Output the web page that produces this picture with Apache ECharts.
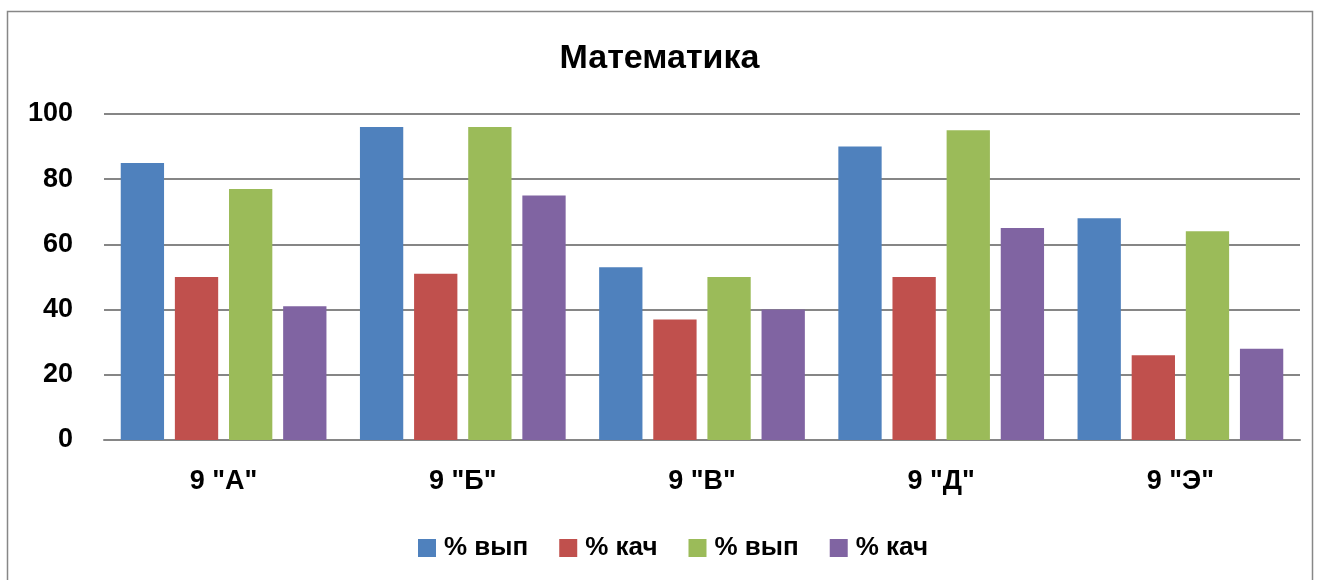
<!DOCTYPE html>
<html><head><meta charset="utf-8">
<script src="https://cdn.jsdelivr.net/npm/echarts@6/dist/echarts.min.js"></script>
<style>html,body{margin:0;padding:0;background:#fff}#c{width:1319px;height:580px}</style>
</head><body><div id="c"></div>
<script>
const title = 'Математика';
const categories = ['9 "А"', '9 "Б"', '9 "В"', '9 "Д"', '9 "Э"'];
const seriesNames = ['% вып', '% кач', '% вып', '% кач'];
const vyp1 = [85, 96, 53, 90, 68];
const kach1 = [50, 51, 37, 50, 26];
const vyp2 = [77, 96, 50, 95, 64];
const kach2 = [41, 75, 40, 65, 28];
const colors = ['#4F81BD', '#C0504D', '#9BBB59', '#8064A2'];
const allData = [vyp1, kach1, vyp2, kach2];

const FONT = '"Liberation Sans", Arial, sans-serif';
const chart = echarts.init(document.getElementById('c'), null, {renderer: 'canvas'});
chart.setOption({
  animation: false,
  backgroundColor: '#fff',
  graphic: [{
    type: 'rect', shape: {x: 7.5, y: 11.5, width: 1305, height: 600},
    style: {fill: 'none', stroke: '#878787', lineWidth: 1.5}, z: -1
  }],
  title: {
    text: title, left: 'center', top: 37,
    textStyle: {fontFamily: FONT, fontWeight: 'bold', fontSize: 34, color: '#000'}
  },
  grid: {left: 104, right: 19, top: 114, bottom: 140, containLabel: false},
  legend: {
    top: 535, left: 418, itemWidth: 18, itemHeight: 18, itemGap: 31, padding: 0,
    icon: 'rect',
    textStyle: {fontFamily: FONT, fontWeight: 'bold', fontSize: 26, color: '#000', padding: [0, 0, 0, 3]},
    data: seriesNames.map((n, i) => ({name: n + '\u200b'.repeat(i), itemStyle: {color: colors[i]}}))
  },
  xAxis: {
    type: 'category', data: categories,
    axisLine: {lineStyle: {color: '#868686', width: 2}},
    axisTick: {show: false},
    axisLabel: {margin: 28, fontFamily: FONT, fontWeight: 'bold', fontSize: 27, color: '#000'}
  },
  yAxis: {
    type: 'value', min: 0, max: 100, interval: 20,
    axisLine: {show: false}, axisTick: {show: false},
    splitLine: {lineStyle: {color: '#868686', width: 2}},
    axisLabel: {margin: 31, fontFamily: FONT, fontWeight: 'bold', fontSize: 27, color: '#000'}
  },
  series: allData.map((d, i) => ({
    type: 'bar', name: seriesNames[i] + '\u200b'.repeat(i), data: d,
    itemStyle: {color: colors[i]},
    barGap: '25%', barCategoryGap: '14%'
  }))
});
</script></body></html>
